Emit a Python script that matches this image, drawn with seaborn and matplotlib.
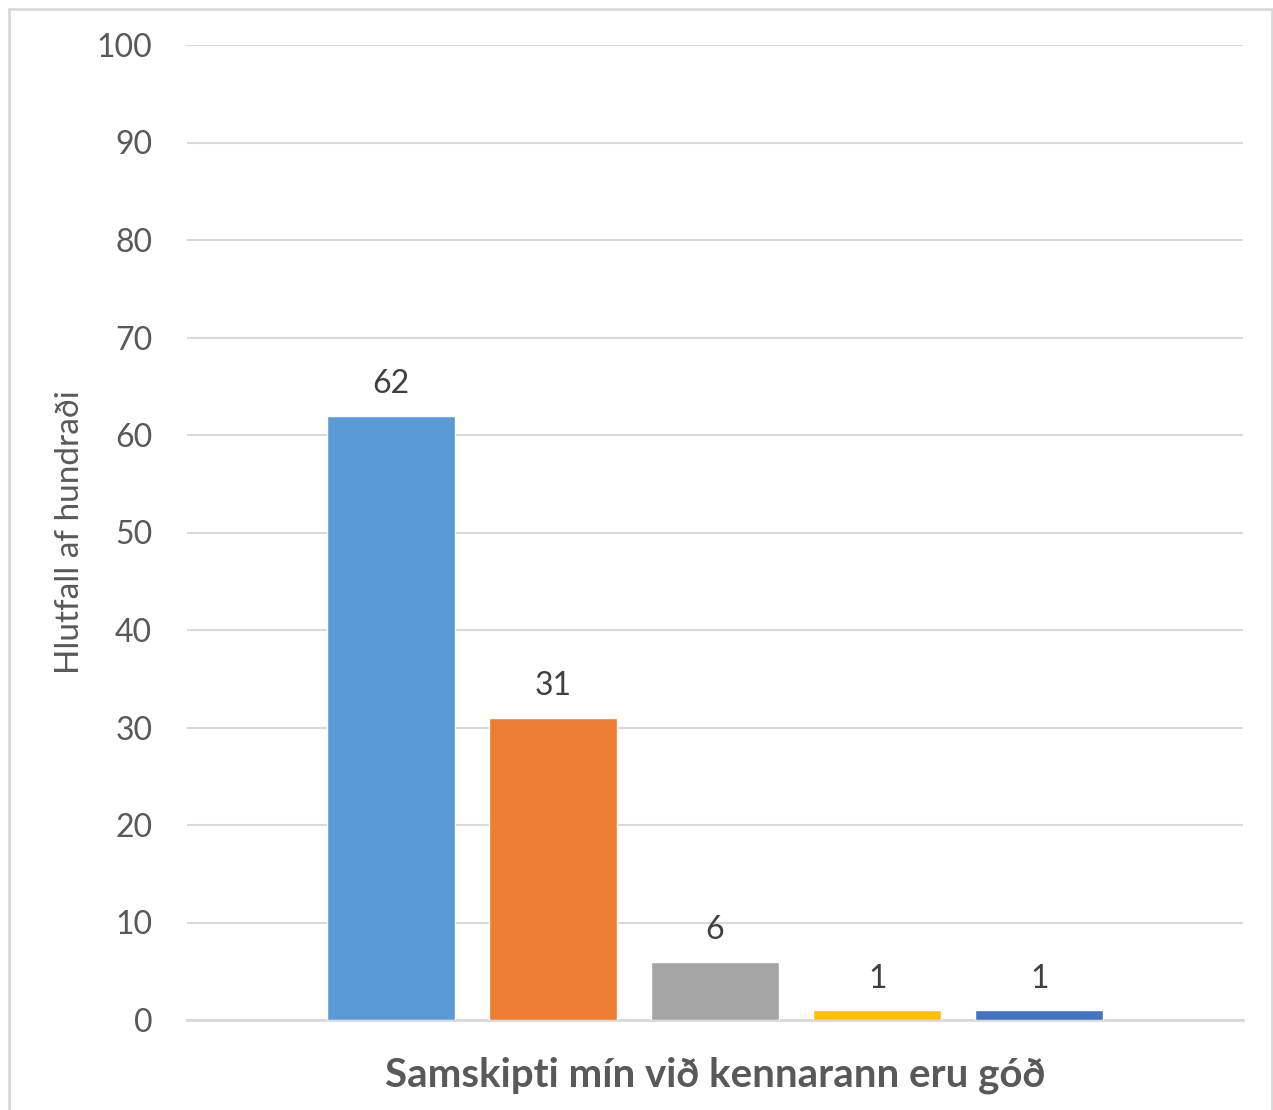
import matplotlib
matplotlib.use('Agg')
import matplotlib.pyplot as plt
from matplotlib.patches import Rectangle
import pandas as pd
import seaborn as sns

# data
categories = ['Mjög sammála', 'Frekar sammála', 'Hlutlaus', 'Frekar ósammála', 'Mjög ósammála']
values = [62, 31, 6, 1, 1]
colors = ['#5B9BD5', '#ED7D31', '#A5A5A5', '#FFC000', '#4472C4']
yticks = [0, 10, 20, 30, 40, 50, 60, 70, 80, 90, 100]
title = 'Samskipti mín við kennarann eru góð'
ylabel = 'Hlutfall af hundraði'

sns.set_style('white')
plt.rcParams['font.family'] = ['Lato', 'DejaVu Sans']

df = pd.DataFrame({'cat': categories, 'val': values})

fig = plt.figure(figsize=(12.73, 11.10), dpi=100)
ax = fig.add_axes([187/1273, 1-1020/1110, (1243-187)/1273, (1020-45)/1110])

sns.barplot(data=df, x='cat', y='val', hue='cat', palette=colors,
            width=0.79, saturation=1, legend=False, ax=ax, zorder=3)

# value labels above bars
for c in ax.containers:
    ax.bar_label(c, fmt='%g', padding=12, fontsize=23, color='#404040')

ax.set_xlim(-1.255, 5.255)
ax.set_ylim(0, 100)
ax.set_yticks(yticks)
ax.yaxis.grid(True, color='#D9D9D9', linewidth=1.5, zorder=0)
ax.set_axisbelow(True)
for s in ['left', 'right', 'top']:
    ax.spines[s].set_visible(False)
ax.spines['bottom'].set_color('#D9D9D9')
ax.spines['bottom'].set_linewidth(2)
ax.set_xticks([])
ax.tick_params(axis='y', length=0, pad=25, labelsize=23, labelcolor='#595959')

ax.set_xlabel(title, fontsize=29, fontweight='bold', color='#595959', labelpad=26)
ax.set_ylabel(ylabel, fontsize=24, color='#595959', labelpad=8)

# light chart border like the office export
fig.patches.append(Rectangle((9/1273, -0.05), 1263/1273, 1.05 - 9/1110,
                             transform=fig.transFigure, fill=False,
                             edgecolor='#D9D9D9', linewidth=2))

fig.savefig('out.png', dpi=100)
